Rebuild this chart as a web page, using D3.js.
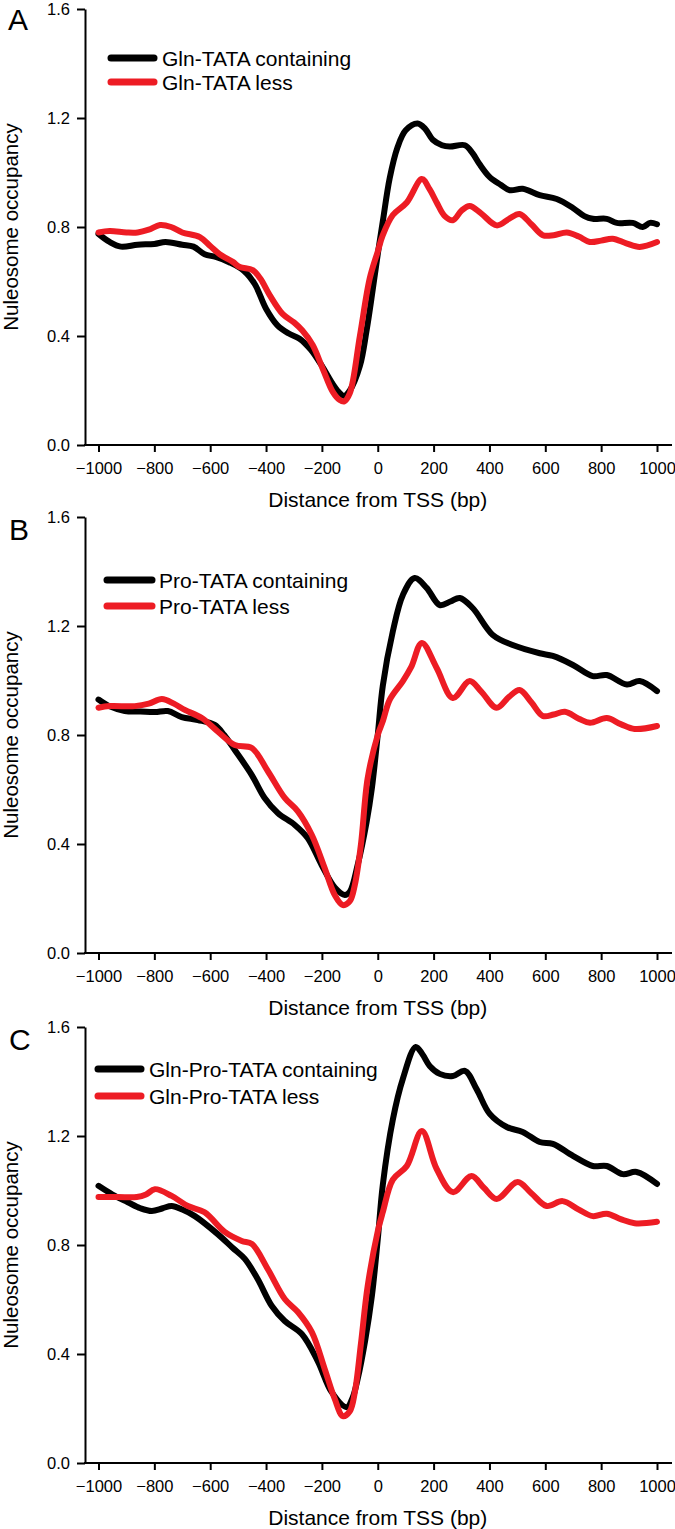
<!DOCTYPE html>
<html>
<head>
<meta charset="utf-8">
<script src="https://cdn.jsdelivr.net/npm/d3@7/dist/d3.min.js"></script>
<style>
  html, body { margin: 0; padding: 0; background: #fff; }
  svg { display: block; }
  text { font-family: "Liberation Sans", Arial, sans-serif; fill: #000; }
</style>
</head>
<body>
<svg id="chart" width="675" height="1529"></svg>
<script>
// ---- Data ----
const xTicks = [-1000, -800, -600, -400, -200, 0, 200, 400, 600, 800, 1000];
const yTicks = [0.0, 0.4, 0.8, 1.2, 1.6];
const panelLetters = ["A", "B", "C"];
const legendLabels = [
  ["Gln-TATA containing", "Gln-TATA less"],
  ["Pro-TATA containing", "Pro-TATA less"],
  ["Gln-Pro-TATA containing", "Gln-Pro-TATA less"]
];

// Panel A
const glnContaining = [[-1000,0.775],[-960,0.745],[-920,0.728],[-860,0.735],[-800,0.738],[-760,0.745],[-700,0.735],[-660,0.728],[-620,0.70],[-580,0.69],[-530,0.67],[-480,0.64],[-440,0.59],[-400,0.50],[-360,0.44],[-320,0.41],[-280,0.39],[-240,0.35],[-200,0.29],[-165,0.23],[-140,0.195],[-120,0.18],[-100,0.20],[-64,0.29],[-40,0.42],[-18,0.57],[0,0.70],[18,0.82],[43,0.98],[70,1.09],[100,1.155],[143,1.18],[170,1.16],[197,1.12],[230,1.10],[258,1.095],[312,1.10],[340,1.07],[365,1.03],[401,0.983],[440,0.955],[473,0.935],[519,0.94],[580,0.917],[641,0.903],[699,0.87],[740,0.84],[770,0.83],[820,0.83],[856,0.815],[913,0.815],[949,0.80],[975,0.815],[1000,0.81]];
const glnLess = [[-1000,0.78],[-960,0.785],[-900,0.78],[-860,0.78],[-820,0.79],[-780,0.807],[-740,0.80],[-700,0.78],[-637,0.763],[-600,0.73],[-566,0.70],[-519,0.672],[-494,0.653],[-448,0.642],[-420,0.61],[-387,0.55],[-340,0.48],[-300,0.45],[-270,0.42],[-233,0.367],[-197,0.28],[-161,0.195],[-136,0.165],[-120,0.16],[-100,0.19],[-64,0.40],[-29,0.61],[0,0.71],[18,0.77],[54,0.844],[104,0.89],[158,0.976],[185,0.94],[211,0.89],[240,0.84],[269,0.825],[300,0.86],[329,0.877],[370,0.85],[426,0.806],[470,0.83],[508,0.848],[550,0.81],[591,0.77],[630,0.77],[677,0.78],[720,0.765],[759,0.745],[800,0.75],[841,0.757],[890,0.74],[938,0.727],[1000,0.745]];

// Panel B
const proContaining = [[-1000,0.93],[-960,0.905],[-906,0.888],[-850,0.886],[-798,0.884],[-752,0.888],[-702,0.866],[-644,0.855],[-584,0.837],[-550,0.80],[-512,0.745],[-451,0.653],[-405,0.569],[-358,0.514],[-297,0.47],[-251,0.422],[-201,0.323],[-154,0.24],[-118,0.213],[-100,0.225],[-72,0.323],[-40,0.48],[-21,0.605],[0,0.80],[18,0.98],[54,1.18],[90,1.314],[132,1.376],[175,1.34],[222,1.277],[260,1.29],[294,1.303],[340,1.266],[412,1.167],[483,1.13],[580,1.10],[627,1.09],[699,1.057],[770,1.016],[820,1.02],[892,0.985],[938,0.998],[1000,0.961]];
const proLess = [[-1000,0.90],[-960,0.906],[-870,0.906],[-820,0.915],[-773,0.932],[-730,0.915],[-691,0.892],[-630,0.862],[-570,0.81],[-512,0.763],[-451,0.752],[-394,0.668],[-333,0.569],[-286,0.52],[-236,0.433],[-190,0.312],[-154,0.213],[-125,0.176],[-100,0.19],[-82,0.25],[-60,0.40],[-36,0.642],[0,0.80],[18,0.85],[43,0.93],[90,0.998],[120,1.05],[158,1.138],[211,1.046],[269,0.936],[329,0.998],[370,0.96],[426,0.90],[470,0.94],[508,0.965],[550,0.92],[591,0.87],[630,0.875],[670,0.885],[720,0.86],[760,0.845],[820,0.862],[870,0.84],[920,0.822],[1000,0.833]];

// Panel C
const glnProContaining = [[-1000,1.017],[-950,0.985],[-895,0.957],[-850,0.935],[-809,0.925],[-770,0.935],[-738,0.943],[-700,0.93],[-655,0.906],[-573,0.84],[-520,0.79],[-476,0.749],[-430,0.675],[-380,0.577],[-333,0.521],[-272,0.473],[-215,0.374],[-165,0.26],[-111,0.205],[-90,0.24],[-72,0.308],[-45,0.45],[-21,0.613],[0,0.82],[18,1.02],[54,1.26],[90,1.41],[136,1.527],[160,1.50],[186,1.457],[222,1.428],[269,1.42],[312,1.439],[354,1.372],[401,1.281],[462,1.233],[519,1.215],[580,1.178],[627,1.171],[699,1.127],[770,1.09],[820,1.09],[877,1.06],[927,1.068],[1000,1.024]];
const glnProLess = [[-1000,0.976],[-930,0.976],[-863,0.976],[-830,0.985],[-798,1.005],[-738,0.98],[-680,0.943],[-620,0.92],[-548,0.848],[-487,0.815],[-451,0.804],[-394,0.712],[-333,0.602],[-286,0.554],[-236,0.48],[-190,0.345],[-154,0.235],[-125,0.172],[-100,0.19],[-82,0.26],[-60,0.44],[-36,0.65],[0,0.85],[18,0.92],[54,1.04],[104,1.09],[158,1.218],[211,1.079],[269,0.994],[336,1.053],[380,1.01],[426,0.969],[501,1.031],[550,0.99],[605,0.943],[662,0.961],[720,0.93],[770,0.906],[820,0.915],[870,0.895],[920,0.88],[1000,0.885]];

const seriesByPanel = [
  [glnContaining, glnLess],
  [proContaining, proLess],
  [glnProContaining, glnProLess]
];
const seriesColors = ["#000000", "#ed1c24"];

// ---- Layout ----
const panelTops = [9, 517, 1027];
const plotH = 436;
const axisX = 85;
const axisRight = 672;
const legendPos = [
  {x1: 111, x2: 154, tx: 162, y: [57 - 8, 81 - 8]},
  {x1: 107, x2: 152, tx: 159, y: [580 - 517, 606 - 517]},
  {x1: 98,  x2: 141, tx: 149, y: [1069 - 1027, 1096 - 1027]}
];

const svg = d3.select("#chart");
const x = d3.scaleLinear().domain([-1000, 1000]).range([98.5, 657]);

panelLetters.forEach((letter, i) => {
  const top = panelTops[i];
  const g = svg.append("g").attr("transform", `translate(0,${top})`);
  const y = d3.scaleLinear().domain([0, 1.6]).range([plotH, 0]);

  // Y axis
  const yAxis = d3.axisLeft(y).tickValues(yTicks).tickFormat(d3.format(".1f"))
    .tickSize(8).tickPadding(7).tickSizeOuter(0);
  const ya = g.append("g").attr("transform", `translate(${axisX},0)`).call(yAxis);
  ya.select(".domain").attr("stroke-width", 2);
  ya.selectAll(".tick line").attr("stroke-width", 2);
  ya.selectAll(".tick text").style("font-size", "16.5px")
    .style("font-family", '"Liberation Sans", Arial, sans-serif').attr("fill", "#000");

  // X axis
  const xAxis = d3.axisBottom(x).tickValues(xTicks).tickFormat(d3.format("d"))
    .tickSize(7).tickPadding(10).tickSizeOuter(0);
  const xa = g.append("g").attr("transform", `translate(0,${plotH})`).call(xAxis);
  xa.select(".domain").remove();
  xa.selectAll(".tick line").attr("stroke-width", 2);
  xa.selectAll(".tick text").style("font-size", "16.5px")
    .style("font-family", '"Liberation Sans", Arial, sans-serif').attr("fill", "#000");
  g.append("line").attr("x1", axisX - 1).attr("x2", axisRight)
    .attr("y1", plotH).attr("y2", plotH).attr("stroke", "#000").attr("stroke-width", 2);

  // Axis titles
  g.append("text").attr("x", x(0)).attr("y", plotH + 62)
    .attr("text-anchor", "middle").style("font-size", "21px").text("Distance from TSS (bp)");
  g.append("text").attr("transform", `translate(18,${plotH / 2}) rotate(-90)`)
    .attr("text-anchor", "middle").style("font-size", "20.5px").text("Nuleosome occupancy");

  // Panel letter
  g.append("text").attr("x", i === 0 ? 8 : 9).attr("y", i === 0 ? 21 : 23)
    .style("font-size", "30px").text(letter);

  // Lines
  const line = d3.line().x(d => x(d[0])).y(d => y(d[1])).curve(d3.curveCatmullRom.alpha(0.5));
  seriesByPanel[i].forEach((data, s) => {
    g.append("path").datum(data).attr("d", line)
      .attr("fill", "none").attr("stroke", seriesColors[s])
      .attr("stroke-width", 6).attr("stroke-linejoin", "round").attr("stroke-linecap", "round");
  });

  // Legend
  const lp = legendPos[i];
  legendLabels[i].forEach((lab, s) => {
    g.append("line").attr("x1", lp.x1).attr("x2", lp.x2).attr("y1", lp.y[s]).attr("y2", lp.y[s])
      .attr("stroke", seriesColors[s]).attr("stroke-width", 7).attr("stroke-linecap", "round");
    g.append("text").attr("x", lp.tx).attr("y", lp.y[s] + 8)
      .style("font-size", "21px").text(lab);
  });
});
</script>
</body>
</html>
